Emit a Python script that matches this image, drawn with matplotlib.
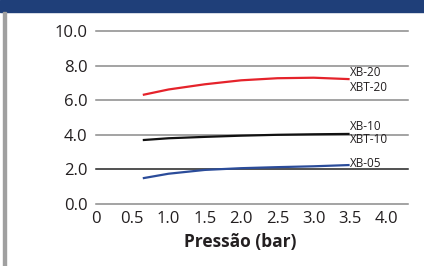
import matplotlib.pyplot as plt
from matplotlib.patches import Rectangle

# values
pressure = [0.66, 1.0, 1.5, 2.0, 2.5, 3.0, 3.48]
xb20 = [6.32, 6.62, 6.92, 7.15, 7.27, 7.30, 7.22]
xb10 = [3.70, 3.80, 3.88, 3.95, 4.00, 4.03, 4.05]
xb05 = [1.50, 1.75, 1.97, 2.07, 2.13, 2.18, 2.25]

xticks = [0, 0.5, 1.0, 1.5, 2.0, 2.5, 3.0, 3.5, 4.0]
xtick_labels = ['0', '0.5', '1.0', '1.5', '2.0', '2.5', '3.0', '3.5', '4.0']
yticks = [0, 2, 4, 6, 8, 10]
ytick_labels = ['0.0', '2.0', '4.0', '6.0', '8.0', '10.0']

# series labels at the right end, (text, y value)
labels = [('XB-20', 7.6), ('XBT-20', 6.76), ('XB-10', 4.46), ('XBT-10', 3.72), ('XB-05', 2.33)]

plt.rcParams['font.family'] = ['Open Sans', 'DejaVu Sans']
txt = '#231f20'

fig = plt.figure(figsize=(4.24, 2.66), dpi=100)

# header band and left border
fig.patches.append(Rectangle((0, 1 - 12 / 266), 1, 12 / 266, transform=fig.transFigure,
                             color='#1f3f79', zorder=0))
fig.patches.append(Rectangle((3 / 424, 0), 3 / 424, 1 - 12 / 266, transform=fig.transFigure,
                             color='#a0a0a0', zorder=0))

ax = fig.add_axes([96 / 424, 62 / 266, 312 / 424, 173 / 266])
ax.set_xlim(0, 4.3)
ax.set_ylim(0, 10)

for y in yticks:
    c = '#222222' if y == 2 else '#8a8a8a'
    ax.axhline(y, color=c, lw=1.1, zorder=1, clip_on=False)

ax.plot(pressure, xb20, color='#e5232b', lw=1.6, zorder=3)
ax.plot(pressure, xb10, color='#111111', lw=1.6, zorder=3)
ax.plot(pressure, xb05, color='#2b4c9a', lw=1.6, zorder=3)

for t, y in labels:
    ax.text(3.5, y, t, fontsize=8.5, color=txt, va='center', ha='left', zorder=4)

ax.set_xticks(xticks)
ax.set_xticklabels(xtick_labels)
ax.set_yticks(yticks)
ax.set_yticklabels(ytick_labels)
ax.tick_params(length=0, labelsize=12, labelcolor=txt)
ax.tick_params(axis='y', pad=6)
ax.tick_params(axis='x', pad=5)

for s in ax.spines.values():
    s.set_visible(False)

ax.set_xlabel('Pressão (bar)', fontsize=12.5, fontweight='bold', color=txt)
ax.xaxis.set_label_coords(0.462, -0.165)

fig.savefig('out.png', dpi=100)
